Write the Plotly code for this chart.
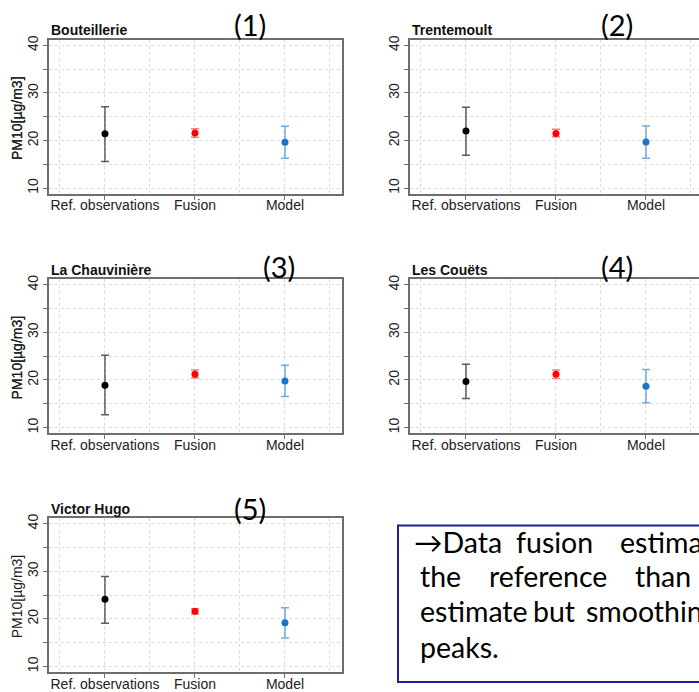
import plotly.graph_objects as go

# ---------------- data ----------------
stations = ["Bouteillerie", "Trentemoult", "La Chauvinière", "Les Couëts", "Victor Hugo"]
panel_tags = ["(1)", "(2)", "(3)", "(4)", "(5)"]
methods = ["Ref. observations", "Fusion", "Model"]

ref_mean = [21.45, 22.0, 18.9, 19.7, 24.1]
ref_low = [15.6, 16.9, 12.7, 16.1, 19.1]
ref_high = [27.1, 27.0, 25.2, 23.3, 28.9]

fus_mean = [21.6, 21.5, 21.2, 21.2, 21.6]
fus_low = [20.7, 20.8, 20.4, 20.3, 21.0]
fus_high = [22.5, 22.35, 22.1, 22.1, 22.15]

mod_mean = [19.65, 19.7, 19.8, 18.7, 19.2]
mod_low = [16.3, 16.3, 16.5, 15.2, 16.0]
mod_high = [23.0, 23.05, 23.1, 22.2, 22.35]

y_ticks = [10, 15, 20, 25, 30, 35, 40]
y_ticklabels = ["10", "", "20", "", "30", "", "40"]

note_lines = [
    ["→Data", "fusion", "estimate"],
    ["the", "reference", "than"],
    ["estimate", "but", "smoothing"],
    ["peaks."],
]

# ---------------- layout helpers ----------------
W, H = 699, 692


def px(x):
    return x / W


def py(y):
    return 1 - y / H


col_left = [49, 410]
row_top = [36, 277.5, 518.5]
panel_w = 293
panel_h = 155.5
unit_px = 90.0
x_left_val = 0.378

means = [ref_mean, fus_mean, mod_mean]
lows = [ref_low, fus_low, mod_low]
highs = [ref_high, fus_high, mod_high]
mcolors = ["#000000", "#FF0000", "#1874CD"]
ecolors = ["rgba(40,40,40,0.75)", "rgba(255,40,40,0.6)", "rgba(24,116,205,0.6)"]

AXFONT = dict(family="Liberation Sans, Arial, sans-serif", size=14, color="#222222")
GRID = "#dcdcdc"
LINE = "#6e6e6e"

fig = go.Figure()
annotations = []

for i, st in enumerate(stations):
    row, col = i // 2, i % 2
    left = col_left[col]
    right = min(W, left + panel_w)
    top = row_top[row]
    bottom = top + panel_h
    n = "" if i == 0 else str(i + 1)
    xa, ya = "x" + n, "y" + n

    for j in range(3):
        m = means[j][i]
        fig.add_trace(go.Scatter(
            x=[j + 1], y=[m], mode="markers",
            marker=dict(color=mcolors[j], size=7),
            error_y=dict(type="data", symmetric=False,
                         array=[highs[j][i] - m], arrayminus=[m - lows[j][i]],
                         color=ecolors[j], thickness=1.5, width=4),
            xaxis=xa, yaxis=ya, showlegend=False, hoverinfo="skip"))

    x_right_val = x_left_val + (right - left) / unit_px
    fig.layout["xaxis" + n] = dict(
        domain=[px(left), px(right)], range=[x_left_val, x_right_val],
        anchor=ya, tickmode="array", tickvals=[1, 2, 3], ticktext=methods,
        ticks="outside", ticklen=4, tickcolor=LINE, tickfont=AXFONT,
        ticklabelstandoff=-6,
        showgrid=True, gridcolor=GRID, griddash="dot", gridwidth=1,
        minor=dict(tickvals=[0.5, 1.5, 2.5, 3.5], showgrid=True, gridcolor=GRID,
                   griddash="dot", gridwidth=1, ticks=""),
        showline=True, linecolor=LINE, linewidth=1.5, mirror=True,
        zeroline=False, fixedrange=True)
    fig.layout["yaxis" + n] = dict(
        domain=[py(bottom), py(top)], range=[8.8, 41.2], anchor=xa,
        tickmode="array", tickvals=y_ticks, ticktext=y_ticklabels,
        tickangle=-90, ticks="outside", ticklen=4, tickcolor=LINE, tickfont=AXFONT,
        showgrid=True, gridcolor=GRID, griddash="dot", gridwidth=1,
        showline=True, linecolor=LINE, linewidth=1.5, mirror=(col == 0),
        zeroline=False, fixedrange=True)

    # station title
    annotations.append(dict(
        x=px(left), y=py(top - 9.5), xref="paper", yref="paper",
        xanchor="left", yanchor="middle", showarrow=False, text="<b>%s</b>" % st,
        font=dict(family="Liberation Sans, Arial, sans-serif", size=14, color="#111111")))
    # y title
    annotations.append(dict(
        x=px(17), y=py(top + 79), xref="paper", yref="paper",
        xanchor="center", yanchor="middle", showarrow=False, text="PM10[µg/m3]",
        textangle=-90, font=AXFONT))

# panel tags
tag_pos = [(250, 21), (617, 21), (279, 265), (617, 265), (250, 509)]
for t, (tx, ty) in zip(panel_tags, tag_pos):
    annotations.append(dict(
        x=px(tx), y=py(ty), xref="paper", yref="paper", xanchor="center",
        yanchor="middle", showarrow=False, text=t,
        font=dict(family="Lato, sans-serif", size=29, color="#000000")))

# note box text (justified lines placed word by word)
word_x = [[412, 514, 618], [418, 487, 633], [418, 531, 584], [418]]
line_y = [543, 577, 612, 649]
for words, xs, yy in zip(note_lines, word_x, line_y):
    for w, wx in zip(words, xs):
        annotations.append(dict(
            x=px(wx), y=py(yy), xref="paper", yref="paper", xanchor="left",
            yanchor="middle", showarrow=False, text=w,
            font=dict(family="Lato, sans-serif", size=28.5, color="#000000")))

fig.add_shape(type="rect", xref="paper", yref="paper",
              x0=px(398), x1=px(720), y0=py(684), y1=py(526),
              line=dict(color="#1E1E9A", width=2), fillcolor="rgba(0,0,0,0)")

fig.update_layout(
    width=W, height=H, margin=dict(l=0, r=0, t=0, b=0),
    paper_bgcolor="white", plot_bgcolor="white",
    annotations=annotations, showlegend=False)

fig.write_html("out.html")
